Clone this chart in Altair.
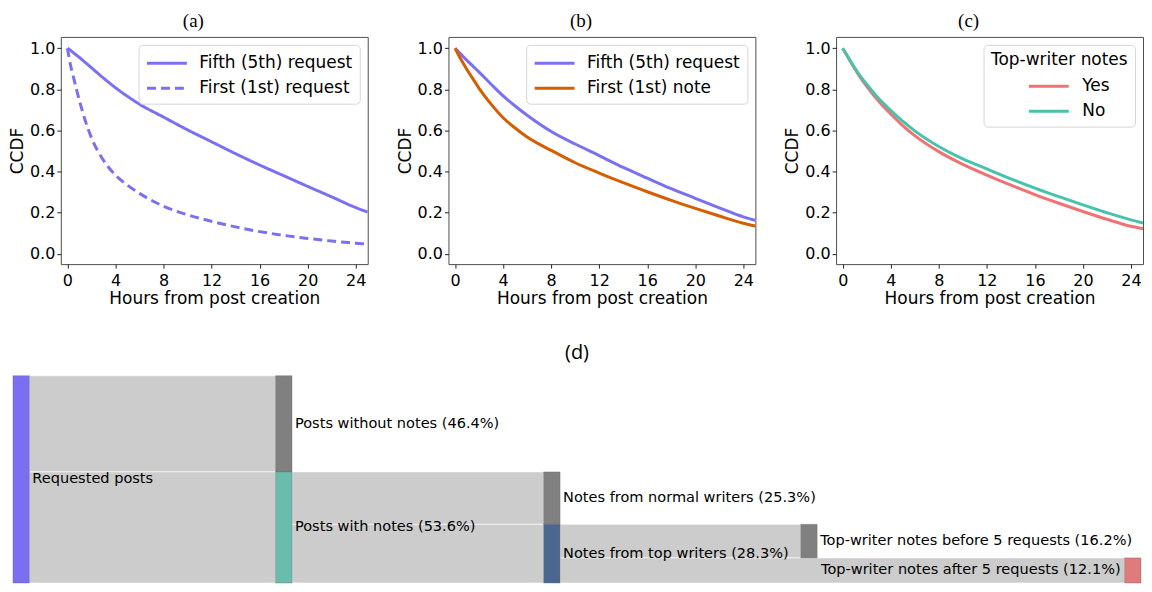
import altair as alt
import pandas as pd

# ---------------- data: CCDF curves ----------------
HOURS = [0, 0.25, 0.5, 1, 1.5, 2, 3, 4, 5, 6, 8, 10, 12, 14, 16, 18, 20, 22, 24, 25]

A_SERIES = ["Fifth (5th) request", "First (1st) request"]
A_FIFTH_REQUEST = [1.0, 0.99, 0.978, 0.955, 0.93, 0.905, 0.855, 0.808, 0.766, 0.728, 0.665,
                   0.603, 0.545, 0.487, 0.432, 0.38, 0.328, 0.277, 0.225, 0.203]
A_FIRST_REQUEST = [1.0, 0.92, 0.86, 0.745, 0.645, 0.565, 0.455, 0.383, 0.334, 0.294, 0.232,
                   0.19, 0.158, 0.131, 0.108, 0.09, 0.075, 0.062, 0.052, 0.047]

B_SERIES = ["Fifth (5th) request", "First (1st) note"]
B_FIFTH_REQUEST = [1.0, 0.985, 0.97, 0.94, 0.912, 0.884, 0.825, 0.768, 0.719, 0.674, 0.595,
                   0.534, 0.478, 0.42, 0.368, 0.317, 0.27, 0.224, 0.18, 0.163]
B_FIRST_NOTE = [1.0, 0.972, 0.945, 0.895, 0.85, 0.805, 0.728, 0.662, 0.612, 0.568, 0.503,
                0.443, 0.393, 0.346, 0.302, 0.26, 0.221, 0.184, 0.149, 0.135]

C_SERIES = ["Yes", "No"]
C_YES = [1.0, 0.975, 0.95, 0.9, 0.855, 0.815, 0.742, 0.68, 0.624, 0.575, 0.497,
         0.435, 0.383, 0.334, 0.288, 0.246, 0.206, 0.168, 0.134, 0.122]
C_NO = [1.0, 0.976, 0.952, 0.905, 0.862, 0.825, 0.755, 0.698, 0.645, 0.598, 0.522,
        0.462, 0.413, 0.365, 0.32, 0.278, 0.238, 0.2, 0.165, 0.15]

X_TICKS = [0, 4, 8, 12, 16, 20, 24]
Y_TICKS = [0.0, 0.2, 0.4, 0.6, 0.8, 1.0]

# ---------------- data: sankey ----------------
NODE_LABELS = ["Requested posts",
               "Posts without notes (46.4%)",
               "Posts with notes (53.6%)",
               "Notes from normal writers (25.3%)",
               "Notes from top writers (28.3%)",
               "Top-writer notes before 5 requests (16.2%)",
               "Top-writer notes after 5 requests (12.1%)"]
NODE_SHARE = [100.0, 46.4, 53.6, 25.3, 28.3, 16.2, 12.1]
NODE_COLUMN = [0, 1, 1, 2, 2, 3, 4]
NODE_COLORS = ["#7a6ff0", "#808080", "#6bbcab", "#808080", "#4b6790", "#808080", "#e07b7b"]
LINK_SOURCE = [0, 0, 2, 2, 4, 4]
LINK_TARGET = [1, 2, 3, 4, 5, 6]
LINK_VALUE = [46.4, 53.6, 25.3, 28.3, 16.2, 12.1]

# ---------------- layout / style constants ----------------
PURPLE = "#7a70f3"
ORANGE = "#d55e00"
RED = "#f07272"
TEAL = "#46c3aa"
PANEL_W, PANEL_H = 308, 228
TOTAL_W = 1136                      # full sankey width (page content width)
AXIS_EXTENT = 52                    # width taken by the y axis of panel (a)
SANKEY_W, SANKEY_H = TOTAL_W - AXIS_EXTENT, 208
COLUMN_POS = [0.0035, 0.2355, 0.4723, 0.6994, 0.9855]   # node column left edges (fraction of TOTAL_W)
NODE_W = 0.0145
LINE_SYMBOL = "M-2,0L2,0"           # 40px legend line with a 20px layout size

TICK_FONT = "DejaVu Sans"


def long_df(series_names, values_lists):
    rows = []
    for name, vals in zip(series_names, values_lists):
        for h, v in zip(HOURS, vals):
            rows.append({"hours": h, "ccdf": v, "series": name})
    return pd.DataFrame(rows)


def panel_title(t):
    return alt.TitleParams(t, font="Liberation Serif", fontSize=19, fontWeight="normal",
                           color="black", offset=6, anchor="middle", dx=-21)


x_enc = alt.X("hours:Q",
              scale=alt.Scale(domain=[-0.55, 25], nice=False, zero=False),
              axis=alt.Axis(values=X_TICKS, format="d", title="Hours from post creation"))
y_enc = alt.Y("ccdf:Q",
              scale=alt.Scale(domain=[-0.05, 1.055], nice=False, zero=False),
              axis=alt.Axis(values=Y_TICKS, format=".1f", title="CCDF"))

legend_common = dict(orient="top-right", offset=8, fillColor="white", strokeColor="#d6d6d6",
                     cornerRadius=4, padding=7, symbolType=LINE_SYMBOL, symbolSize=400,
                     symbolStrokeWidth=3, symbolFillColor="transparent",
                     labelFont=TICK_FONT, labelFontSize=17, labelColor="black",
                     symbolOffset=10, labelOffset=21, rowPadding=5)

# (a)
df_a = long_df(A_SERIES, [A_FIFTH_REQUEST, A_FIRST_REQUEST])
chart_a = alt.Chart(df_a, title=panel_title("(a)")).mark_line(
    color=PURPLE, strokeWidth=3, clip=True, interpolate="monotone"
).encode(
    x=x_enc, y=y_enc,
    strokeDash=alt.StrokeDash("series:N",
                              scale=alt.Scale(domain=A_SERIES, range=[[1, 0], [9, 5]]),
                              legend=alt.Legend(title=None, symbolStrokeColor=PURPLE,
                                                **legend_common)),
).properties(width=PANEL_W, height=PANEL_H)

# (b)
df_b = long_df(B_SERIES, [B_FIFTH_REQUEST, B_FIRST_NOTE])
chart_b = alt.Chart(df_b, title=panel_title("(b)")).mark_line(
    strokeWidth=3, clip=True, interpolate="monotone"
).encode(
    x=x_enc, y=y_enc,
    color=alt.Color("series:N", scale=alt.Scale(domain=B_SERIES, range=[PURPLE, ORANGE]),
                    legend=alt.Legend(title=None, **legend_common)),
).properties(width=PANEL_W, height=PANEL_H)

# (c)
df_c = long_df(C_SERIES, [C_YES, C_NO])
chart_c = alt.Chart(df_c, title=panel_title("(c)")).mark_line(
    strokeWidth=3, clip=True, interpolate="monotone"
).encode(
    x=x_enc, y=y_enc,
    color=alt.Color("series:N", scale=alt.Scale(domain=C_SERIES, range=[RED, TEAL]),
                    legend=alt.Legend(title="Top-writer notes", titleFont=TICK_FONT,
                                      titleFontSize=17, titleFontWeight="normal",
                                      titleColor="black", titleAnchor="middle",
                                      titlePadding=6,
                                      **{**legend_common, "symbolOffset": 29,
                                         "labelOffset": 22})),
).properties(width=PANEL_W, height=PANEL_H)

# ---------------- sankey geometry from the data ----------------
node_y0 = [0.0] * len(NODE_LABELS)
out_offset = {}
link_rows = []
for s, t, v in zip(LINK_SOURCE, LINK_TARGET, LINK_VALUE):
    off = out_offset.get(s, node_y0[s])
    node_y0[t] = off
    out_offset[s] = off + v
    link_rows.append({
        "x0": COLUMN_POS[NODE_COLUMN[s]] + NODE_W,
        "x1": COLUMN_POS[NODE_COLUMN[t]],
        "y0": off, "y1": off + v,
    })
df_links = pd.DataFrame(link_rows)

last_col = max(NODE_COLUMN)
df_nodes = pd.DataFrame({
    "label": NODE_LABELS,
    "x0": [COLUMN_POS[c] for c in NODE_COLUMN],
    "x1": [COLUMN_POS[c] + NODE_W for c in NODE_COLUMN],
    "y0": node_y0,
    "y1": [y + h for y, h in zip(node_y0, NODE_SHARE)],
    "ymid": [y + h / 2 for y, h in zip(node_y0, NODE_SHARE)],
    "color": NODE_COLORS,
    "side": ["left" if c == last_col else "right" for c in NODE_COLUMN],
})

# the sankey view starts where panel (a)'s plot starts; its first column sits to the left of it
sx = alt.Scale(domain=[AXIS_EXTENT / TOTAL_W, 1], nice=False, zero=False)
sy = alt.Scale(domain=[0, 100], reverse=True, nice=False, zero=False)

links = alt.Chart(df_links).mark_rect(color="#cccccc", stroke="white", strokeWidth=0.6,
                                      clip=False).encode(
    x=alt.X("x0:Q", scale=sx, axis=None), x2="x1:Q",
    y=alt.Y("y0:Q", scale=sy, axis=None), y2="y1:Q",
)
nodes = alt.Chart(df_nodes).mark_rect(clip=False, stroke="#6d6d6d", strokeWidth=0.4).encode(
    x=alt.X("x0:Q", scale=sx, axis=None), x2="x1:Q",
    y=alt.Y("y0:Q", scale=sy, axis=None), y2="y1:Q",
    color=alt.Color("color:N", scale=None),
)
labels_r = alt.Chart(df_nodes).transform_filter("datum.side == 'right'").mark_text(
    align="left", baseline="middle", dx=3, font=TICK_FONT, fontSize=14.6, color="black"
).encode(x=alt.X("x1:Q", scale=sx, axis=None), y=alt.Y("ymid:Q", scale=sy, axis=None),
         text="label:N")
labels_l = alt.Chart(df_nodes).transform_filter("datum.side == 'left'").mark_text(
    align="right", baseline="middle", dx=-4, font=TICK_FONT, fontSize=14.6, color="black"
).encode(x=alt.X("x0:Q", scale=sx, axis=None), y=alt.Y("ymid:Q", scale=sy, axis=None),
         text="label:N")

sankey = alt.layer(links, nodes, labels_r, labels_l).properties(
    width=SANKEY_W, height=SANKEY_H,
    title=alt.TitleParams("(d)", font="Open Sans", fontSize=20, fontWeight="normal",
                          color="black", offset=12, anchor="middle", dx=-24),
    view=alt.ViewBackground(strokeOpacity=0),
)

top = alt.hconcat(chart_a, chart_b, chart_c, spacing=27).resolve_scale(
    x="independent", y="independent", color="independent", strokeDash="independent"
).resolve_legend(color="independent", strokeDash="independent")

chart = alt.vconcat(top, sankey, spacing=35).properties(
    padding={"left": 0, "top": 2, "right": 0, "bottom": 0}
).configure_view(
    stroke="#4d4d4d", strokeWidth=1
).configure_axis(
    grid=False, domain=False, tickColor="#222222", tickSize=4, tickWidth=1,
    labelFont=TICK_FONT, labelFontSize=16, labelColor="black", labelOverlap=False,
    labelFlush=False, titleFont=TICK_FONT, titleFontSize=17, titleFontWeight="normal",
    titleColor="black",
).configure_axisX(labelPadding=4, titlePadding=3).configure_axisY(labelPadding=2, titlePadding=3)

chart.save("out.html", embed_options={"renderer": "svg", "actions": False})
